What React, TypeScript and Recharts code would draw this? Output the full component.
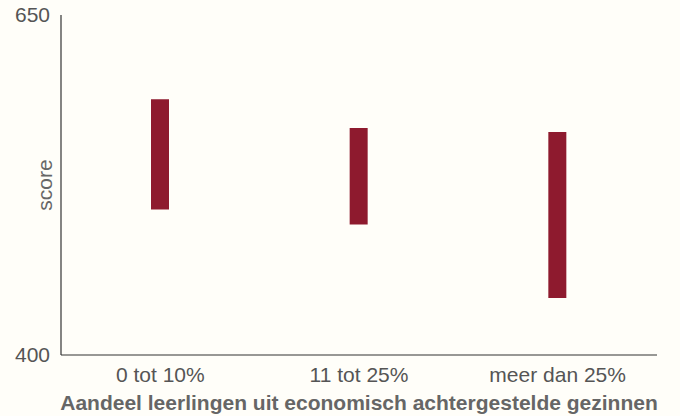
import { BarChart, Bar, XAxis, YAxis } from 'recharts';

const categories = ['0 tot 10%', '11 tot 25%', 'meer dan 25%'];
const lowScores = [507, 496, 442];
const highScores = [588, 567, 564];
const yTicks = [400, 650];

const data = categories.map((name, i) => ({
  name,
  range: [lowScores[i], highScores[i]],
}));

const FONT = '"Liberation Sans", Arial, Helvetica, sans-serif';

const XTitle = ({ viewBox }: any) => {
  const { x, width } = viewBox;
  return (
    <text
      x={x + width / 2}
      y={410}
      textAnchor="middle"
      fontSize={21}
      fontWeight="bold"
      fill="#666"
      fontFamily={FONT}
    >
      Aandeel leerlingen uit economisch achtergestelde gezinnen
    </text>
  );
};

const YTitle = ({ viewBox }: any) => {
  const { y, height } = viewBox;
  const cx = 44;
  const cy = y + height / 2;
  return (
    <text
      x={cx}
      y={cy}
      transform={`rotate(-90, ${cx}, ${cy})`}
      textAnchor="middle"
      dominantBaseline="central"
      fontSize={21}
      fill="#666"
      fontFamily={FONT}
    >
      score
    </text>
  );
};

export default function App() {
  return (
    <div style={{ position: 'absolute', left: 0, top: 0, width: 680, height: 416, background: '#fffef9' }}>
      <style>{'body { margin: 0; }'}</style>
      <BarChart
        width={680}
        height={416}
        data={data}
        margin={{ top: 15, right: 23, left: 0, bottom: 0 }}
        barCategoryGap={0}
      >
        <XAxis
          dataKey="name"
          height={61}
          tickLine={false}
          axisLine={{ stroke: '#333', strokeWidth: 1.2 }}
          tick={{ fontSize: 21, fill: '#555', fontFamily: FONT }}
          tickMargin={6}
          label={<XTitle />}
        />
        <YAxis
          width={61}
          domain={[400, 650]}
          ticks={yTicks}
          tickLine={false}
          axisLine={{ stroke: '#333', strokeWidth: 1.2 }}
          tick={{ fontSize: 21, fill: '#555', fontFamily: FONT }}
          tickMargin={5}
          label={<YTitle />}
        />
        <Bar dataKey="range" fill="#8e1a2e" barSize={18} isAnimationActive={false} />
      </BarChart>
    </div>
  );
}
